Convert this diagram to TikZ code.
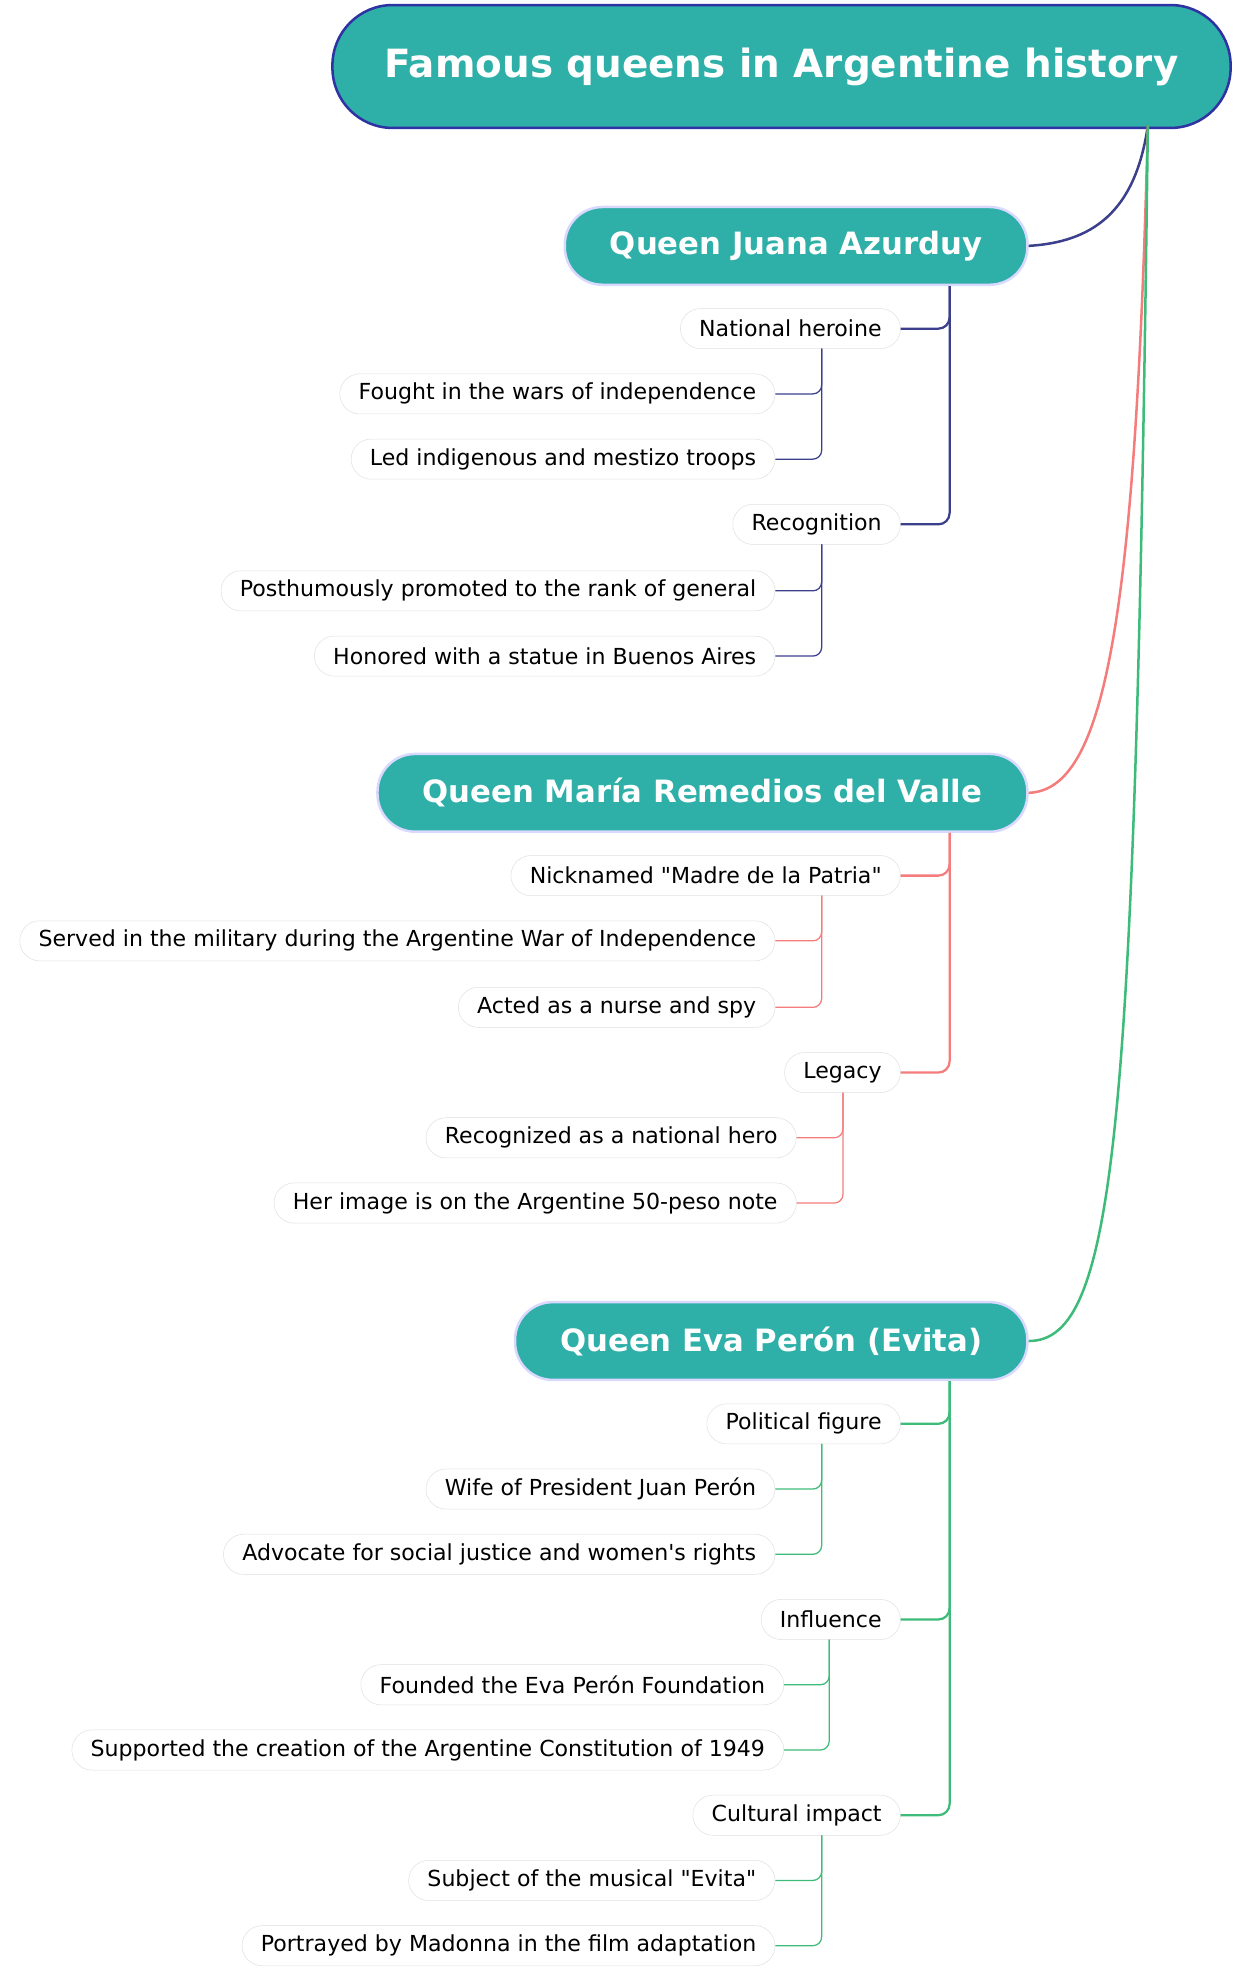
\documentclass[tikz,border=0pt]{standalone}
\usepackage{fontspec}
\setmainfont{DejaVu Sans}
\usetikzlibrary{positioning}
\definecolor{teal1}{HTML}{2EAFA8}
\definecolor{navy1}{HTML}{3B3F8C}
\definecolor{salmon1}{HTML}{F47C7C}
\definecolor{green1}{HTML}{3DBB78}
\begin{document}
\begin{tikzpicture}[x=1pt,y=-1pt,
    title/.style={draw=navy1!80!blue, line width=2pt, fill=teal1, rounded corners=48pt,
      minimum width=716pt, minimum height=98pt, text=white, font=\fontsize{31}{36}\selectfont\bfseries},
    queen/.style={draw=blue!15, line width=2pt, fill=teal1, rounded corners=30pt,
      minimum height=62pt, inner xsep=36pt, anchor=east, text=white, font=\fontsize{24.5}{29}\selectfont\bfseries},
    topic/.style={draw=black!12, fill=white, rounded corners=16pt, minimum height=32pt,
      inner xsep=15pt, anchor=east, font=\fontsize{17.6}{21}\selectfont},
    link/.style={line width=1.8pt, rounded corners=9pt},
    sublink/.style={line width=1pt, rounded corners=7pt}
  ]
  \useasboundingbox (0,0) rectangle (990,1572);

  % Root
  \node[title] (root) at (623,53) {Famous queens in Argentine history};
  \coordinate (rootfoot) at (915,100);

  % Queens
  \node[queen] (juana) at (820,196) {Queen Juana Azurduy};
  \node[queen] (maria) at (820,632) {Queen María Remedios del Valle};
  \node[queen] (eva) at (820,1069) {Queen Eva Perón (Evita)};

  \draw[navy1, line width=2pt] (rootfoot) .. controls (905,170) and (870,193) .. (juana.east);
  \draw[salmon1, line width=2pt] (rootfoot) .. controls (905,500) and (880,630) .. (maria.east);
  \draw[green1, line width=2pt] (rootfoot) .. controls (905,900) and (890,1069) .. (eva.east);

  % Juana
  \node[topic] (heroine) at (718,262) {National heroine};
  \node[topic] (fought) at (618,314) {Fought in the wars of independence};
  \node[topic] (troops) at (618,366) {Led indigenous and mestizo troops};
  \node[topic] (recog) at (718,418) {Recognition};
  \node[topic] (general) at (618,471) {Posthumously promoted to the rank of general};
  \node[topic] (statue) at (618,523) {Honored with a statue in Buenos Aires};

  \coordinate (juanafoot) at (757,228);
  \draw[link, navy1] (juanafoot) |- (heroine.east);
  \draw[link, navy1] (juanafoot) |- (recog.east);
  \draw[sublink, navy1] (655,278) |- (fought.east);
  \draw[sublink, navy1] (655,278) |- (troops.east);
  \draw[sublink, navy1] (655,434) |- (general.east);
  \draw[sublink, navy1] (655,434) |- (statue.east);

  % Maria
  \node[topic] (nick) at (718,698) {Nicknamed \textquotedbl Madre de la Patria\textquotedbl};
  \node[topic] (served) at (618,750) {Served in the military during the Argentine War of Independence};
  \node[topic] (nurse) at (618,803) {Acted as a nurse and spy};
  \node[topic] (legacy) at (718,855) {Legacy};
  \node[topic] (hero) at (635,907) {Recognized as a national hero};
  \node[topic] (peso) at (635,959) {Her image is on the Argentine 50-peso note};

  \coordinate (mariafoot) at (757,664);
  \draw[link, salmon1] (mariafoot) |- (nick.east);
  \draw[link, salmon1] (mariafoot) |- (legacy.east);
  \draw[sublink, salmon1] (655,714) |- (served.east);
  \draw[sublink, salmon1] (655,714) |- (nurse.east);
  \draw[sublink, salmon1] (672,871) |- (hero.east);
  \draw[sublink, salmon1] (672,871) |- (peso.east);

  % Eva
  \node[topic] (political) at (718,1135) {Political figure};
  \node[topic] (wife) at (618,1187) {Wife of President Juan Perón};
  \node[topic] (advocate) at (618,1239) {Advocate for social justice and women\textquotesingle s rights};
  \node[topic] (influence) at (718,1291) {Influence};
  \node[topic] (founded) at (625,1343) {Founded the Eva Perón Foundation};
  \node[topic] (constitution) at (625,1395) {Supported the creation of the Argentine Constitution of 1949};
  \node[topic] (cultural) at (718,1447) {Cultural impact};
  \node[topic] (musical) at (618,1499) {Subject of the musical \textquotedbl Evita\textquotedbl};
  \node[topic] (madonna) at (618,1551) {Portrayed by Madonna in the film adaptation};

  \coordinate (evafoot) at (757,1101);
  \draw[link, green1] (evafoot) |- (political.east);
  \draw[link, green1] (evafoot) |- (influence.east);
  \draw[link, green1] (evafoot) |- (cultural.east);
  \draw[sublink, green1] (655,1151) |- (wife.east);
  \draw[sublink, green1] (655,1151) |- (advocate.east);
  \draw[sublink, green1] (661,1307) |- (founded.east);
  \draw[sublink, green1] (661,1307) |- (constitution.east);
  \draw[sublink, green1] (655,1463) |- (musical.east);
  \draw[sublink, green1] (655,1463) |- (madonna.east);
\end{tikzpicture}
\end{document}
